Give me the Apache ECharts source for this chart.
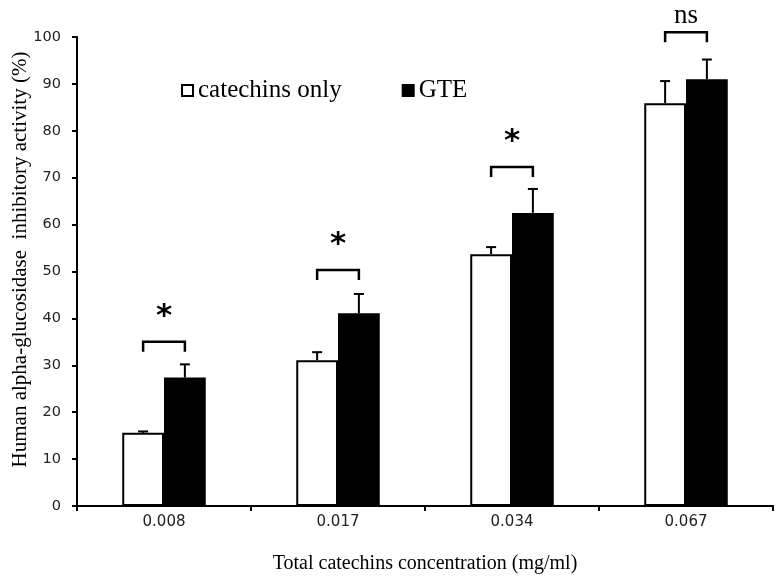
<!DOCTYPE html>
<html>
<head>
<meta charset="utf-8">
<script src="https://cdn.jsdelivr.net/npm/echarts@6/dist/echarts.min.js"></script>
<style>html,body{margin:0;padding:0;background:#fff}#c{width:781px;height:582px}</style>
</head>
<body>
<div id="c"></div>
<script>
const categories = ['0.008', '0.017', '0.034', '0.067'];
const catechinsOnly = [15.6, 31.1, 53.7, 85.9];
const catechinsOnlyErr = [0.3, 1.7, 1.5, 4.7];
const gte = [27.4, 41.1, 62.5, 91.0];
const gteErr = [2.8, 4.1, 5.1, 4.2];
const bracketY = [35.0, 50.3, 72.3, 101.0];
const bracketLabels = ['*', '*', '*', 'ns'];
const yTicks = { min: 0, max: 100, interval: 10 };

const BAR_FRAC = 0.24;
const SERIF = '"Liberation Serif", "DejaVu Serif", serif';
const SANS = '"DejaVu Sans", Verdana, sans-serif';

const errData = [];
catechinsOnly.forEach((v, i) => errData.push([i, v, catechinsOnlyErr[i], -1]));
gte.forEach((v, i) => errData.push([i, v, gteErr[i], 1]));

const chart = echarts.init(document.getElementById('c'));
chart.setOption({
  animation: false,
  backgroundColor: '#fff',
  grid: { left: 77, right: 8, top: 37, bottom: 76, containLabel: false, outerBoundsMode: 'none' },
  legend: {
    left: 176, top: 73,
    icon: 'rect',
    itemWidth: 11, itemHeight: 11, itemGap: 60,
    textStyle: { fontFamily: SERIF, fontSize: 25, color: '#000' },
    data: ['catechins only', 'GTE']
  },
  xAxis: {
    type: 'category',
    data: categories,
    name: 'Total catechins concentration (mg/ml)',
    nameLocation: 'middle',
    nameGap: 48,
    nameMoveOverlap: false,
    nameTextStyle: { fontFamily: SERIF, fontSize: 20, color: '#000' },
    axisLine: { lineStyle: { color: '#000', width: 2 } },
    axisTick: { show: true, length: 5, lineStyle: { color: '#000', width: 2 } },
    axisLabel: { fontFamily: SANS, fontSize: 15, color: '#222', margin: 9 }
  },
  yAxis: {
    type: 'value',
    min: yTicks.min, max: yTicks.max, interval: yTicks.interval,
    name: 'Human alpha-glucosidase  inhibitory activity (%)',
    nameLocation: 'middle',
    nameGap: 46,
    nameMoveOverlap: false,
    nameTextStyle: { fontFamily: SERIF, fontSize: 21, color: '#000', padding: [0, 0, 0, 24] },
    axisLine: { show: true, lineStyle: { color: '#000', width: 2 } },
    axisTick: { show: true, length: 5, lineStyle: { color: '#000', width: 2 } },
    axisLabel: { fontFamily: SANS, fontSize: 14.5, color: '#222', margin: 16 },
    splitLine: { show: false }
  },
  series: [
    {
      name: 'catechins only', type: 'bar', data: catechinsOnly,
      barWidth: (BAR_FRAC * 100) + '%', barGap: '0%',
      itemStyle: { color: '#fff', borderColor: '#000', borderWidth: 2 }
    },
    {
      name: 'GTE', type: 'bar', data: gte,
      barWidth: (BAR_FRAC * 100) + '%', barGap: '0%',
      itemStyle: { color: '#000', borderColor: '#000', borderWidth: 2 }
    },
    {
      type: 'custom', name: 'err', data: errData, z: 5, clip: false,
      renderItem: function (params, api) {
        const c = api.value(0), v = api.value(1), e = api.value(2), side = api.value(3);
        const bw = api.size([1, 0])[0];
        const base = api.coord([c, v]);
        const top = api.coord([c, v + e]);
        const x = base[0] + side * bw * BAR_FRAC / 2;
        const st = { stroke: '#000', lineWidth: 2 };
        return {
          type: 'group', children: [
            { type: 'line', shape: { x1: x, y1: base[1], x2: x, y2: top[1] }, style: st },
            { type: 'line', shape: { x1: x - 5, y1: top[1], x2: x + 5, y2: top[1] }, style: st }
          ]
        };
      }
    },
    {
      type: 'custom', name: 'sig', data: bracketY.map((y, i) => [i, y]), z: 5, clip: false,
      renderItem: function (params, api) {
        const c = api.value(0), y = api.value(1);
        const bw = api.size([1, 0])[0];
        const p = api.coord([c, y]);
        const off = bw * BAR_FRAC / 2;
        const x1 = p[0] - off, x2 = p[0] + off;
        const st = { stroke: '#000', lineWidth: 2.5, fill: null };
        const lab = bracketLabels[params.dataIndex];
        const isStar = lab === '*';
        return {
          type: 'group', children: [
            { type: 'polyline', shape: { points: [[x1, p[1] + 10], [x1, p[1]], [x2, p[1]], [x2, p[1] + 10]] }, style: st },
            {
              type: 'text',
              style: {
                text: lab, x: p[0], y: isStar ? p[1] - 25 : p[1] - 16,
                align: 'center', verticalAlign: 'middle',
                font: isStar ? 'bold 31px ' + SANS : '27px ' + SERIF,
                fill: '#000'
              }
            }
          ]
        };
      }
    }
  ]
});
</script>
</body>
</html>
